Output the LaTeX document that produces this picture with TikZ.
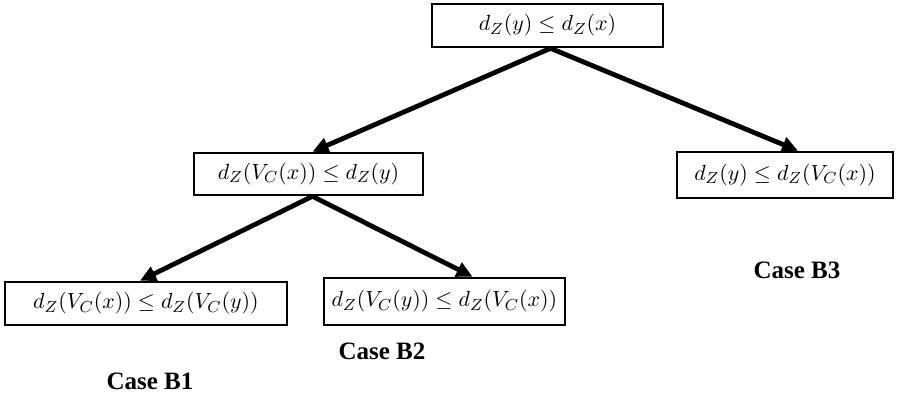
\documentclass[tikz,border=0pt]{standalone}
\usepackage{fontspec}
\usepackage{amsmath}
\usetikzlibrary{arrows.meta, positioning}
\newfontfamily\casefont{Liberation Serif}
\tikzset{
	>={Triangle[length=8pt,width=7.5pt]},
	cond/.style={draw, line width=1.3pt, inner sep=0pt, font=\fontsize{11}{13}\selectfont},
	branch/.style={->, line width=2.4pt},
	casename/.style={font=\casefont\bfseries\fontsize{12.5}{14}\selectfont}}

\begin{document}
\begin{tikzpicture}[x=0.5pt, y=-0.5pt]
		\useasboundingbox (0,0) rectangle (899,398);
		
		\node[cond, minimum width=115.5pt, minimum height=21.5pt] (top) at (547.5,25.5) {$d_Z(y) \leq d_Z(x)$};
		
		\node[cond, minimum width=114.5pt, minimum height=21pt] (mid) at (308.5,174) {$d_Z(V_C(x)) \leq d_Z(y)$};
		\node[cond, minimum width=108pt, minimum height=23pt] (right) at (785,175) {$d_Z(y) \leq d_Z(V_C(x))$};
		
		\node[cond, minimum width=141pt, minimum height=21.5pt] (left1) at (146,303.5) {$d_Z(V_C(x)) \leq d_Z(V_C(y))$};
		\node[cond, minimum width=120.5pt, minimum height=23.5pt] (left2) at (444.5,301.5) {$d_Z(V_C(y)) \leq d_Z(V_C(x))$};
		
		\node[casename] (b1) at (150,381) {Case B1};
		\node[casename] (b2) at (382,351) {Case B2};
		\node[casename] (b3) at (797,270) {Case B3};
		
		\draw[branch] ([xshift=1.5pt]top.south) -- ([xshift=2pt]mid.north);
		\draw[branch] ([xshift=1.5pt]top.south) -- ([xshift=6.5pt]right.north);
		\draw[branch] ([xshift=2pt]mid.north |- mid.south) -- ([xshift=-3pt]left1.north);
		\draw[branch] ([xshift=2pt]mid.north |- mid.south) -- ([xshift=14pt]left2.north);
		
	\end{tikzpicture}
\end{document}
